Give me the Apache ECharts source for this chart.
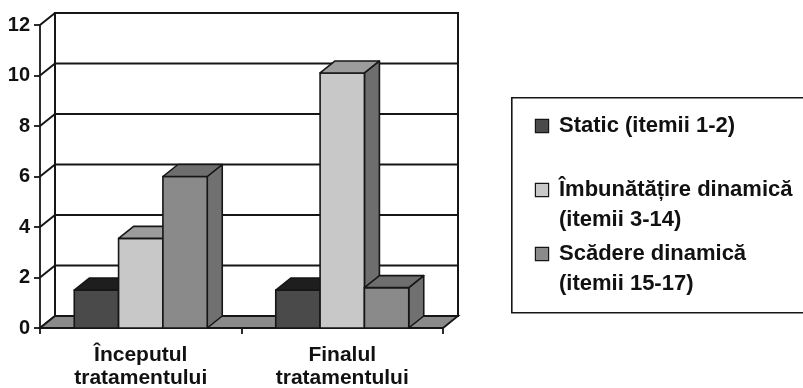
<!DOCTYPE html>
<html>
<head>
<meta charset="utf-8">
<script src="https://cdn.jsdelivr.net/npm/echarts@6/dist/echarts.min.js"></script>
<style>
  html, body { margin: 0; padding: 0; background: #fff; }
  #chart { width: 803px; height: 388px; }
</style>
</head>
<body>
<div id="chart"></div>
<script>
// data
var categories = ['Începutul\ntratamentului', 'Finalul\ntratamentului'];
var seriesNames = ['Static (itemii 1-2)', 'Îmbunătățire dinamică (itemii 3-14)', 'Scădere dinamică (itemii 15-17)'];
var staticVals = [1.5, 1.5];
var improveVals = [3.55, 10.1];
var declineVals = [6, 1.6];
var yMin = 0, yMax = 12, yStep = 2;

var FONT = '"Liberation Sans", Arial, sans-serif';
var LINE = '#161616';
var DX = 15, DY = 12;          // depth of the 3d box
var BAR_FRAC = 0.22;           // bar width as part of a category
var frontColors = ['#4a4a4a', '#c8c8c8', '#8a8a8a'];
var topColors = ['#1e1e1e', '#9c9c9c', '#6e6e6e'];
var sideColors = ['#2a2a2a', '#6e6e6e', '#707070'];

var chart = echarts.init(document.getElementById('chart'));

// walls + floor
function renderFrame(params, api) {
    var bw = api.size([1, 0])[0];
    var c0 = api.coord([0, yMin]);
    var left = c0[0] - bw / 2;
    var right = left + bw * categories.length;
    var y0 = c0[1];
    var yTop = api.coord([0, yMax])[1];
    var children = [];
    children.push({
        type: 'rect',
        shape: { x: left + DX, y: yTop - DY, width: right - left, height: y0 - yTop },
        style: { fill: '#fff', stroke: LINE, lineWidth: 2 }
    });
    for (var v = yMin; v <= yMax; v += yStep) {
        var y = api.coord([0, v])[1];
        children.push({
            type: 'line',
            shape: { x1: left + DX, y1: y - DY, x2: right + DX, y2: y - DY },
            style: { stroke: LINE, lineWidth: 2 }
        });
        children.push({
            type: 'line',
            shape: { x1: left, y1: y, x2: left + DX, y2: y - DY },
            style: { stroke: LINE, lineWidth: 2 }
        });
    }
    children.push({
        type: 'polygon',
        shape: { points: [[left, y0], [left + DX, y0 - DY], [right + DX, y0 - DY], [right, y0]] },
        style: { fill: '#8a8a8a', stroke: LINE, lineWidth: 1.8 }
    });
    return { type: 'group', children: children };
}

function makeBar(k) {
    return function (params, api) {
        var ci = api.value(0), v = api.value(1);
        var bw = api.size([1, 0])[0];
        var w = bw * BAR_FRAC;
        var c = api.coord([ci, v]);
        var b = api.coord([ci, 0]);
        var x0 = c[0] - 1.5 * w + k * w, x1 = x0 + w;
        var yt = c[1], yb = b[1];
        var st = { stroke: LINE, lineWidth: 1.6, lineJoin: 'round' };
        return {
            type: 'group',
            children: [
                { type: 'polygon', shape: { points: [[x1, yt], [x1 + DX, yt - DY], [x1 + DX, yb - DY], [x1, yb]] },
                  style: Object.assign({ fill: sideColors[k] }, st) },
                { type: 'rect', shape: { x: x0, y: yt, width: w, height: yb - yt },
                  style: Object.assign({ fill: frontColors[k] }, st) },
                { type: 'polygon', shape: { points: [[x0, yt], [x0 + DX, yt - DY], [x1 + DX, yt - DY], [x1, yt]] },
                  style: Object.assign({ fill: topColors[k] }, st) }
            ]
        };
    };
}

function pairs(vals) {
    return vals.map(function (v, i) { return [i, v]; });
}

var allVals = [staticVals, improveVals, declineVals];
var barSeries = allVals.map(function (vals, k) {
    return {
        name: seriesNames[k],
        type: 'custom',
        renderItem: makeBar(k),
        encode: { x: 0, y: 1 },
        data: pairs(vals),
        itemStyle: { color: frontColors[k] },
        clip: false,
        z: 3
    };
});

var rich = {
    g: { width: 11 },
    pad: { width: 23 },
    t: { fontSize: 22, fontWeight: 'bold', fontFamily: FONT, color: '#111', lineHeight: 30 }
};
frontColors.forEach(function (c, k) {
    rich['m' + k] = { width: 12, height: 12, backgroundColor: c, borderColor: LINE, borderWidth: 1.2 };
});

function legendText(name) {
    var k = seriesNames.indexOf(name);
    var cut = name.indexOf(' (');
    var first = name, second = ' ';
    if (k > 0) { first = name.slice(0, cut); second = name.slice(cut + 1); }
    return '{m' + k + '|}{g|}{t|' + first + '}\n{pad|}{t|' + second + '}';
}

option = {
    animation: false,
    backgroundColor: '#fff',
    grid: { left: 40, right: 360, top: 25, bottom: 60, containLabel: false, outerBoundsMode: 'none' },
    graphic: [{
        type: 'rect', left: 511, top: 97, z: 0,
        shape: { width: 300, height: 215 },
        style: { fill: '#fff', stroke: LINE, lineWidth: 1.6 }
    }],
    legend: {
        orient: 'vertical',
        left: 526,
        top: 110,
        itemGap: 12,
        icon: 'none',
        itemWidth: 0,
        itemHeight: 0,
        textGap: 0,
        selectedMode: false,
        data: seriesNames,
        formatter: legendText,
        textStyle: { rich: rich }
    },
    xAxis: {
        type: 'category',
        data: categories,
        axisLine: { lineStyle: { color: LINE, width: 1.8 } },
        axisTick: { show: true, length: 6, lineStyle: { color: LINE, width: 1.8 } },
        axisLabel: { fontSize: 21, fontWeight: 'bold', fontFamily: FONT, color: '#111', lineHeight: 23, margin: 16 },
        splitLine: { show: false }
    },
    yAxis: {
        type: 'value',
        min: yMin,
        max: yMax,
        interval: yStep,
        axisLine: { show: true, lineStyle: { color: LINE, width: 1.8 } },
        axisTick: { show: true, length: 6, lineStyle: { color: LINE, width: 1.8 } },
        axisLabel: { fontSize: 20, fontWeight: 'bold', fontFamily: FONT, color: '#111', margin: 10 },
        splitLine: { show: false }
    },
    series: [{
        type: 'custom',
        renderItem: renderFrame,
        encode: { x: 0, y: 1 },
        data: [[0, 0]],
        clip: false,
        silent: true,
        z: 1
    }].concat(barSeries)
};

chart.setOption(option);
</script>
</body>
</html>
